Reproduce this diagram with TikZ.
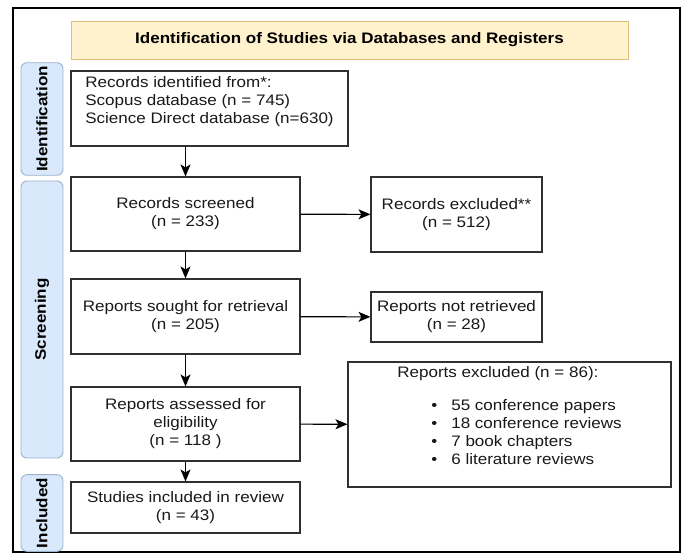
\documentclass[tikz,border=0pt]{standalone}
\usepackage{xcolor}
\usepackage{fontspec}
\setmainfont{Liberation Sans}[FakeStretch=1.12]
\usepackage{tikz}
\usetikzlibrary{arrows.meta}
\usetikzlibrary{shapes}
\usetikzlibrary{positioning}
\definecolor{headfill}{HTML}{FFF2CC}
\definecolor{headline}{HTML}{DCC07A}
\definecolor{tabfill}{HTML}{DAE8FC}
\definecolor{tabline}{HTML}{9DB2CF}
\definecolor{boxline}{HTML}{303030}
\tikzset{%
  every box/.style={
    rectangle,
    draw=boxline,
    line width=1.1pt,
    fill=white,
    align=center,
    text=black!90,
    font=\fontsize{15.2}{18}\selectfont
  },
  side tab/.style={
    rectangle,
    rounded corners=6pt,
    draw=tabline,
    fill=tabfill,
    line width=0.9pt,
    rotate=90,
    minimum height=42pt,
    font=\fontsize{15.2}{18}\selectfont\bfseries
  },
  head bar/.style={
    rectangle,
    draw=headline,
    fill=headfill,
    line width=0.8pt,
    font=\fontsize{15.2}{18}\selectfont\bfseries
  },
  flow/.style={
    -{Stealth[length=12pt,width=10pt,inset=3pt]},
    line width=1.1pt,
    draw=black
  },
}

\begin{document}
\begin{tikzpicture}
  \useasboundingbox (0pt,0pt) rectangle (686pt,-554pt);
  \draw [line width=1.2pt] (13pt,-8pt) rectangle (680pt,-552pt);

  \node (head) [xshift=349.5pt,yshift=-40pt,head bar,minimum width=557pt,minimum height=38pt]
  {Identification of Studies via Databases and Registers};

  \node (tabid) [xshift=42pt,yshift=-119pt,side tab,minimum width=102pt] {Identification};
  \node (tabscr) [xshift=42pt,yshift=-319.5pt,side tab,minimum width=277pt] {Screening};
  \node (tabinc) [xshift=42pt,yshift=-513pt,side tab,minimum width=72pt] {Included};

  \node (rec) [xshift=209.5pt,yshift=-108.5pt,every box,align=left,minimum width=277pt,minimum height=75pt]
  {Records identified from*:\\
   Scopus database (n = 745)\\
   Science Direct database (n=630)\\
   \mbox{}};
  \node (scr) [xshift=185.5pt,yshift=-214pt,every box,minimum width=229pt,minimum height=74pt]
  {Records screened\\(n = 233)};
  \node (excl) [xshift=456.5pt,yshift=-214.5pt,every box,minimum width=171pt,minimum height=75pt]
  {Records excluded**\\(n = 512)};
  \node (sought) [xshift=185.5pt,yshift=-316.5pt,every box,minimum width=229pt,minimum height=75pt]
  {Reports sought for retrieval\\(n = 205)};
  \node (notret) [xshift=456.5pt,yshift=-317pt,every box,minimum width=171pt,minimum height=50pt]
  {Reports not retrieved\\(n = 28)};
  \node (assess) [xshift=185.5pt,yshift=-424pt,every box,minimum width=229pt,minimum height=74pt]
  {Reports assessed for\\eligibility\\(n = 118 )};
  \node (repexcl) [xshift=509.5pt,yshift=-424.5pt,every box,align=left,minimum width=323pt,minimum height=125pt]
  {Reports excluded (n = 86):\\[15pt]
   \hspace*{34pt}\textbullet\hspace{14pt}55 conference papers\\
   \hspace*{34pt}\textbullet\hspace{14pt}18 conference reviews\\
   \hspace*{34pt}\textbullet\hspace{14pt}7 book chapters\\
   \hspace*{34pt}\textbullet\hspace{14pt}6 literature reviews\\
   \mbox{}};
  \node (incl) [xshift=185.5pt,yshift=-507.5pt,every box,minimum width=229pt,minimum height=51pt]
  {Studies included in review\\(n = 43)};

  \draw [flow] (scr |- rec.south)--(scr.north);
  \draw [flow] (scr)--(excl);
  \draw [flow] (scr)--(sought);
  \draw [flow] (sought)--(notret);
  \draw [flow] (sought)--(assess);
  \draw [flow] (assess)--(repexcl);
  \draw [flow] (assess)--(incl);
\end{tikzpicture}
\end{document}
